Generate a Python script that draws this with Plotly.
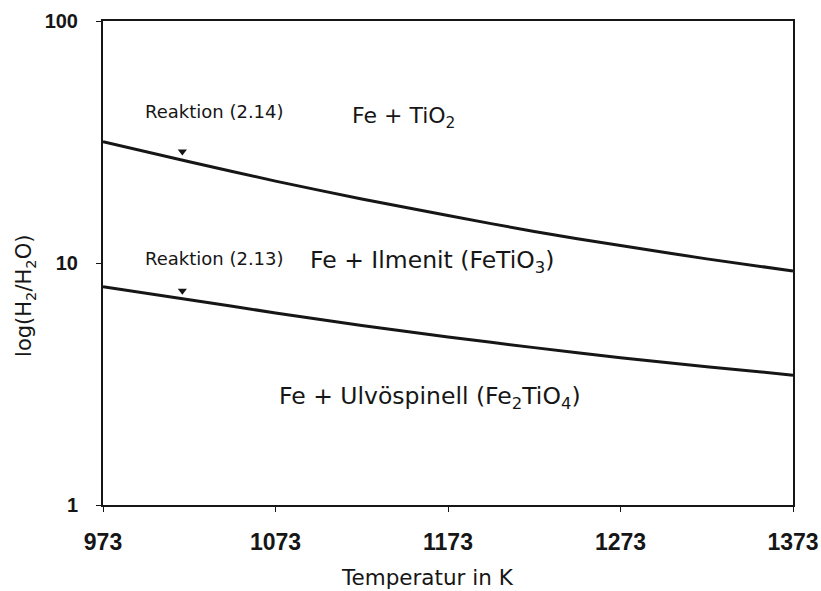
import math
import plotly.graph_objects as go

# Temperature grid (K) and equilibrium ratios H2/H2O for both reactions
temperature = [973, 1023, 1073, 1123, 1173, 1223, 1273, 1323, 1373]
ratio_214 = [31.7, 26.2, 21.8, 18.4, 15.7, 13.5, 11.8, 10.4, 9.27]
ratio_213 = [7.98, 7.05, 6.22, 5.52, 4.95, 4.47, 4.06, 3.73, 3.44]

# Pointer markers for the reaction labels
pointer_T = [1019, 1019]
pointer_ratio = [28.9, 7.68]

x_ticks = [973, 1073, 1173, 1273, 1373]
y_ticks = [1, 10, 100]

FONT = "DejaVu Sans, Liberation Sans, sans-serif"
TICK_FONT = "Liberation Sans, Arial, sans-serif"
INK = "#161616"

fig = go.Figure()
for ys in (ratio_214, ratio_213):
    fig.add_trace(go.Scatter(
        x=temperature, y=ys, mode="lines",
        line=dict(color=INK, width=3, shape="spline", smoothing=0.8),
        showlegend=False, hoverinfo="skip"))

fig.add_trace(go.Scatter(
    x=pointer_T, y=pointer_ratio, mode="markers",
    marker=dict(symbol="triangle-down", size=8, color=INK),
    showlegend=False, hoverinfo="skip"))

# Region and reaction labels (annotation y on a log axis is given as log10)
labels = [
    (996, 42.1, "Reaktion (2.14)", 18),
    (1116, 40.1, "Fe + TiO<sub>2</sub>", 22),
    (996, 10.4, "Reaktion (2.13)", 18),
    (1092, 10.1, "Fe + Ilmenit (FeTiO<sub>3</sub>)", 23.5),
    (1074, 2.79, "Fe + Ulvöspinell (Fe<sub>2</sub>TiO<sub>4</sub>)", 23.5),
]
for x, y, txt, size in labels:
    fig.add_annotation(x=x, y=math.log10(y), yref="y", xref="x", text=txt,
                       showarrow=False, xanchor="left", yanchor="middle",
                       font=dict(family=FONT, size=size, color=INK))

# Axis titles
fig.add_annotation(x=-0.113, y=0.432, xref="paper", yref="paper",
                   text="log(H<sub>2</sub>/H<sub>2</sub>O)", textangle=-90,
                   showarrow=False, xanchor="center", yanchor="middle",
                   font=dict(family=FONT, size=21, color=INK))
fig.add_annotation(x=0.471, y=-0.149, xref="paper", yref="paper",
                   text="Temperatur in K", showarrow=False,
                   xanchor="center", yanchor="middle",
                   font=dict(family=FONT, size=21.5, color=INK))

fig.update_layout(
    width=821, height=591,
    margin=dict(l=103, r=28, t=21, b=86),
    plot_bgcolor="white", paper_bgcolor="white",
    font=dict(family=FONT, color=INK),
)
fig.update_xaxes(
    range=[973, 1373], tickvals=x_ticks, ticktext=[str(v) for v in x_ticks],
    showgrid=False, zeroline=False, automargin=False,
    showline=True, linecolor=INK, linewidth=2, mirror=True,
    ticks="outside", ticklen=5, tickwidth=1, tickcolor=INK,
    ticklabelstandoff=10,
    tickfont=dict(family=TICK_FONT, size=23, color=INK, weight="bold"),
)
fig.update_yaxes(
    type="log", range=[0, 2], tickvals=y_ticks, ticktext=[str(v) for v in y_ticks],
    showgrid=False, zeroline=False, automargin=False,
    showline=True, linecolor=INK, linewidth=2, mirror=True,
    ticks="outside", ticklen=5, tickwidth=1, tickcolor=INK,
    ticklabelstandoff=14,
    tickfont=dict(family=TICK_FONT, size=20, color=INK, weight="bold"),
)

fig.write_html("out.html")
